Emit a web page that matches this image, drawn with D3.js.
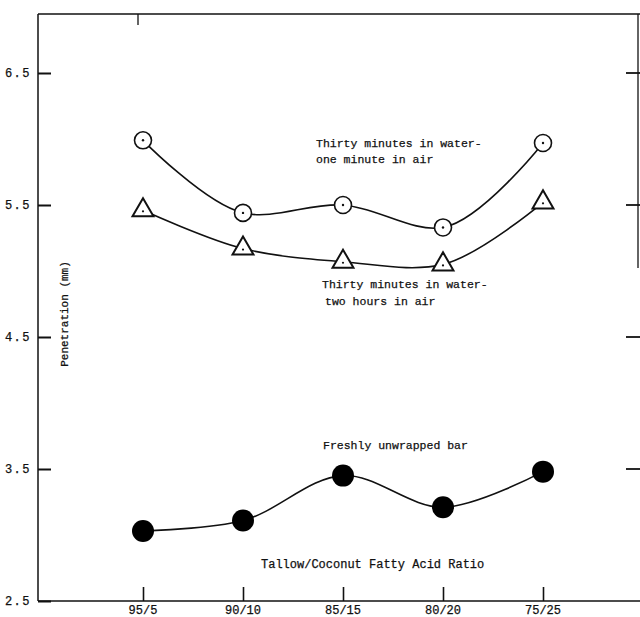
<!DOCTYPE html>
<html>
<head>
<meta charset="utf-8">
<script src="https://cdn.jsdelivr.net/npm/d3@7"></script>
<style>
  body { margin: 0; background: #fff; }
  svg { display: block; }
  text { font-family: "Liberation Mono", "DejaVu Sans Mono", monospace; fill: #111; stroke: #111; stroke-width: 0.25px; }
</style>
</head>
<body>
<div id="chart"></div>
<script>
// data
const ratios = ['95/5', '90/10', '85/15', '80/20', '75/25'];
const oneMinuteAir = [5.99, 5.44, 5.50, 5.33, 5.97];
const twoHoursAir = [5.46, 5.17, 5.07, 5.05, 5.52];
const freshBar = [3.03, 3.11, 3.45, 3.21, 3.48];
const yTicks = [2.5, 3.5, 4.5, 5.5, 6.5];
const rightTicks = [3.5, 4.5, 5.5, 6.5];

const width = 640;
const height = 617;

const svg = d3.select('#chart')
  .append('svg')
    .attr('width', width)
    .attr('height', height);

svg.append('rect')
  .attr('width', width)
  .attr('height', height)
  .attr('fill', '#fff');

const x = d3.scalePoint()
  .domain(ratios)
  .range([143, 543]);

const y = d3.scaleLinear()
  .domain([2.5, 6.5])
  .range([601, 73]);

const axisLeftX = 38;
const topY = 14;

// frame
svg.append('line')
  .attr('x1', axisLeftX).attr('x2', width)
  .attr('y1', topY).attr('y2', topY)
  .attr('stroke', '#111').attr('stroke-width', 1.5);
svg.append('line')
  .attr('x1', 638).attr('x2', 638)
  .attr('y1', topY).attr('y2', 268)
  .attr('stroke', '#111').attr('stroke-width', 1.3);
svg.append('line')
  .attr('x1', x(ratios[0]) - 5).attr('x2', x(ratios[0]) - 5)
  .attr('y1', topY).attr('y2', topY + 11)
  .attr('stroke', '#111').attr('stroke-width', 1.3);

// left axis, ticks pointing inwards
const yAxis = svg.append('g')
  .attr('class', 'domainY')
  .attr('transform', `translate(${axisLeftX}, 0)`)
  .call(d3.axisRight(y).tickValues(yTicks).tickSize(13).tickFormat(d3.format('.1f')));
yAxis.select('.domain')
  .attr('d', `M0,${topY}V601`)
  .attr('stroke', '#111').attr('stroke-width', 1.5);
yAxis.selectAll('line').attr('stroke', '#111').attr('stroke-width', 2);
yAxis.selectAll('text')
  .attr('x', -7)
  .attr('text-anchor', 'end')
  .style('font-size', '12px')
  .style('font-family', '"Liberation Mono", monospace')
  .attr('letter-spacing', '1.5px');

// right ticks
svg.selectAll('.rtick')
  .data(rightTicks)
  .enter()
  .append('line')
    .attr('class', 'rtick')
    .attr('x1', 626).attr('x2', width)
    .attr('y1', d => y(d)).attr('y2', d => y(d))
    .attr('stroke', '#111').attr('stroke-width', 1.8);

// bottom axis, ticks pointing up
const xAxis = svg.append('g')
  .attr('class', 'domainX')
  .attr('transform', `translate(0, ${y(2.5)})`)
  .call(d3.axisTop(x).tickSize(14).tickFormat(''));
xAxis.select('.domain')
  .attr('d', `M${axisLeftX},0H${width}`)
  .attr('stroke', '#111').attr('stroke-width', 1.5);
xAxis.selectAll('line').attr('stroke', '#111').attr('stroke-width', 1.6);

svg.selectAll('.xlab')
  .data(ratios)
  .enter()
  .append('text')
    .attr('class', 'xlab')
    .attr('x', d => x(d))
    .attr('y', 614)
    .attr('text-anchor', 'middle')
    .style('font-size', '12px')
    .text(d => d);

// axis titles
svg.append('text')
  .attr('transform', `translate(68, 314) rotate(-90)`)
  .attr('text-anchor', 'middle')
  .style('font-size', '11px')
  .text('Penetration (mm)');

svg.append('text')
  .attr('x', 261)
  .attr('y', 568)
  .style('font-size', '12px')
  .text('Tallow/Coconut Fatty Acid Ratio');

// series
const line = d3.line()
  .x((d, i) => x(ratios[i]))
  .y(d => y(d))
  .curve(d3.curveCatmullRom.alpha(1));

[oneMinuteAir, twoHoursAir, freshBar].forEach(s => {
  svg.append('path')
    .datum(s)
    .attr('d', line)
    .attr('fill', 'none')
    .attr('stroke', '#111')
    .attr('stroke-width', 1.6);
});

// open circles
svg.selectAll('.ocirc')
  .data(oneMinuteAir)
  .enter()
  .append('circle')
    .attr('class', 'ocirc')
    .attr('cx', (d, i) => x(ratios[i]))
    .attr('cy', d => y(d))
    .attr('r', 8.5)
    .attr('fill', '#fff')
    .attr('stroke', '#111')
    .attr('stroke-width', 1.6);
svg.selectAll('.odot')
  .data(oneMinuteAir)
  .enter()
  .append('circle')
    .attr('class', 'odot')
    .attr('cx', (d, i) => x(ratios[i]))
    .attr('cy', d => y(d))
    .attr('r', 1.2)
    .attr('fill', '#111');

// triangles
const tri = d3.symbol().type(d3.symbolTriangle).size(190);
svg.selectAll('.tri')
  .data(twoHoursAir)
  .enter()
  .append('path')
    .attr('class', 'tri')
    .attr('transform', (d, i) => `translate(${x(ratios[i])}, ${y(d)})`)
    .attr('d', tri)
    .attr('fill', '#fff')
    .attr('stroke', '#111')
    .attr('stroke-width', 2);
svg.selectAll('.tdot')
  .data(twoHoursAir)
  .enter()
  .append('circle')
    .attr('class', 'tdot')
    .attr('cx', (d, i) => x(ratios[i]))
    .attr('cy', d => y(d) + 1)
    .attr('r', 1.1)
    .attr('fill', '#111');

// filled circles
svg.selectAll('.fcirc')
  .data(freshBar)
  .enter()
  .append('circle')
    .attr('class', 'fcirc')
    .attr('cx', (d, i) => x(ratios[i]))
    .attr('cy', d => y(d))
    .attr('r', 11)
    .attr('fill', '#000');

// series labels
const labels = [
  { text: 'Thirty minutes in water-', x: 316, y: 147 },
  { text: 'one minute in air', x: 316, y: 163 },
  { text: 'Thirty minutes in water-', x: 322, y: 288 },
  { text: 'two hours in air', x: 325, y: 305 },
  { text: 'Freshly unwrapped bar', x: 323, y: 449 }
];
svg.selectAll('.slab')
  .data(labels)
  .enter()
  .append('text')
    .attr('class', 'slab')
    .attr('x', d => d.x)
    .attr('y', d => d.y)
    .style('font-size', '11.5px')
    .text(d => d.text);
</script>
</body>
</html>
